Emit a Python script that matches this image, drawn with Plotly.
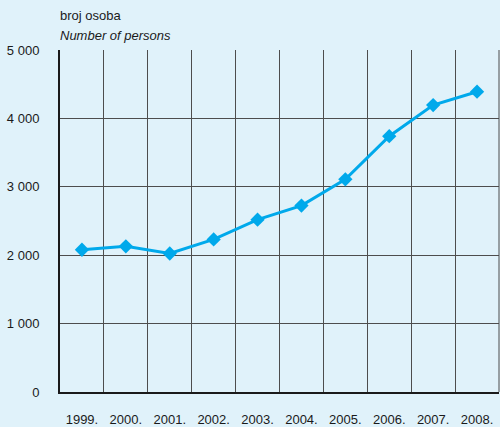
import plotly.graph_objects as go

years = ["1999.", "2000.", "2001.", "2002.", "2003.", "2004.", "2005.", "2006.", "2007.", "2008."]
persons = [2080, 2130, 2025, 2230, 2520, 2725, 3110, 3740, 4195, 4390]
y_ticks = [0, 1000, 2000, 3000, 4000, 5000]
y_tick_labels = ["0", "1 000", "2 000", "3 000", "4 000", "5 000"]

BG = "#e0f2fa"
LINE = "#00a9eb"

fig = go.Figure()
fig.add_trace(go.Scatter(
    x=years, y=persons, mode="lines+markers",
    line=dict(color=LINE, width=3),
    marker=dict(symbol="diamond", size=11, color=LINE),
    showlegend=False, hoverinfo="skip",
))

fig.update_layout(
    width=500, height=427,
    paper_bgcolor=BG, plot_bgcolor=BG,
    margin=dict(l=60, r=1, t=50, b=35, autoexpand=False),
    font=dict(family="Liberation Sans, Arial, sans-serif", size=13, color="#1a1a1a"),
    xaxis=dict(
        type="category", range=[-0.5, 9.5], tickson="boundaries",
        showgrid=True, gridcolor="#4d4d4d", gridwidth=1,
        ticks="", showline=True, linecolor="#1a1a1a", linewidth=2,
        ticklabelstandoff=14, zeroline=False, automargin=False,
        fixedrange=True,
    ),
    yaxis=dict(
        range=[0, 5000], tickvals=y_ticks, ticktext=y_tick_labels,
        showgrid=True, gridcolor="#4d4d4d", gridwidth=1,
        ticks="", showline=True, linecolor="#1a1a1a", linewidth=2,
        ticklabelstandoff=16, zeroline=False, automargin=False,
        fixedrange=True,
    ),
)
fig.add_annotation(text="broj osoba", xref="paper", yref="paper", x=0, y=1,
                   xshift=-2, yshift=35, xanchor="left", yanchor="middle", showarrow=False,
                   font=dict(size=13))
fig.add_annotation(text="<i>Number of persons</i>", xref="paper", yref="paper", x=0, y=1,
                   xshift=-2, yshift=15, xanchor="left", yanchor="middle", showarrow=False,
                   font=dict(size=13))
# right boundary line
fig.add_shape(type="line", xref="paper", yref="paper", x0=1, x1=1, y0=0, y1=1,
              line=dict(color="#4d4d4d", width=1))

fig.write_html(
    "out.html",
    config={"displayModeBar": False},
    post_script="document.body.style.margin='0';document.body.style.overflow='hidden';",
)
